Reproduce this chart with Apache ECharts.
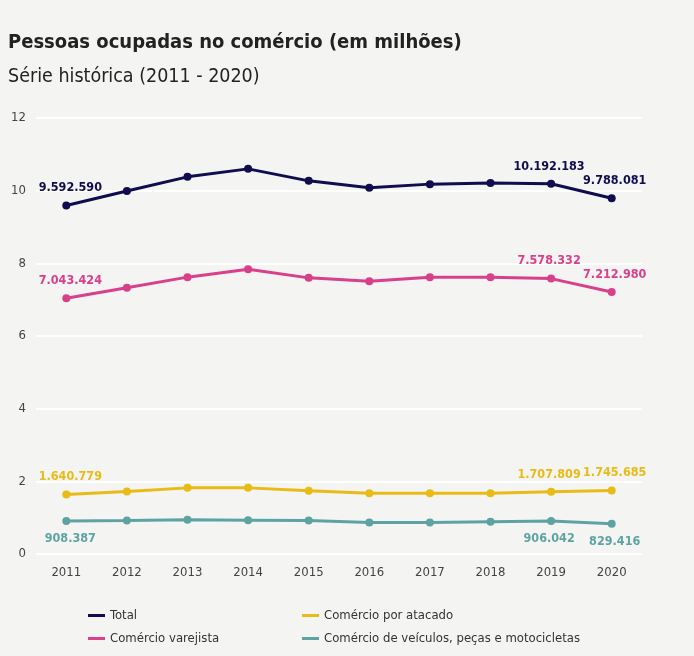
<!DOCTYPE html>
<html>
<head>
<meta charset="utf-8">
<script src="https://cdn.jsdelivr.net/npm/echarts@6/dist/echarts.min.js"></script>
<style>
html,body{margin:0;padding:0;background:#f4f4f2;}
#chart{width:694px;height:656px;}
</style>
</head>
<body>
<div id="chart"></div>
<script>
var anos = ['2011','2012','2013','2014','2015','2016','2017','2018','2019','2020'];
var total = [9.59, 9.99, 10.38, 10.60, 10.27, 10.08, 10.18, 10.21, 10.19, 9.79];
var varejista = [7.04, 7.33, 7.62, 7.84, 7.60, 7.51, 7.62, 7.62, 7.58, 7.21];
var atacado = [1.64, 1.72, 1.82, 1.82, 1.74, 1.67, 1.67, 1.67, 1.71, 1.75];
var veiculos = [0.91, 0.92, 0.94, 0.93, 0.92, 0.87, 0.87, 0.89, 0.91, 0.83];
// rotulos mostrados so em 2011, 2019 e 2020
var rotTotal = {0:'9.592.590', 8:'10.192.183', 9:'9.788.081'};
var rotVarejista = {0:'7.043.424', 8:'7.578.332', 9:'7.212.980'};
var rotAtacado = {0:'1.640.779', 8:'1.707.809', 9:'1.745.685'};
var rotVeiculos = {0:'908.387', 8:'906.042', 9:'829.416'};
var yTicks = [0, 2, 4, 6, 8, 10, 12];

var fonte = '"DejaVu Sans Condensed", "DejaVu Sans", sans-serif';
var estreito = 'condensed';
// pequeno deslocamento pra 2019 e 2020 nao se encostarem
var desloc = {0: [4, 0], 8: [-2, 0], 9: [3, 0]};

function montaDados(valores, rotulos, pos) {
    var out = [];
    for (var i = 0; i < valores.length; i++) {
        var item = {value: valores[i]};
        if (rotulos[i] != null) {
            item.label = {show: true, position: pos, formatter: rotulos[i], offset: desloc[i]};
        }
        out.push(item);
    }
    return out;
}

function serie(nome, cor, valores, rotulos, pos) {
    return {
        name: nome,
        type: 'line',
        data: montaDados(valores, rotulos, pos),
        symbol: 'circle',
        symbolSize: 8,
        lineStyle: {color: cor, width: 3},
        itemStyle: {color: cor},
        label: {show: false, color: cor, fontFamily: fonte, fontStyle: estreito, fontWeight: 'bold', fontSize: 12.5, distance: 7},
        animation: false
    };
}

function legenda(nome, left, top) {
    return {
        data: [nome], left: left, top: top,
        icon: 'rect', itemWidth: 17, itemHeight: 3, itemGap: 5,
        textStyle: {fontFamily: fonte, fontStyle: estreito, fontSize: 13, color: '#333'}
    };
}

var myChart = echarts.init(document.getElementById('chart'));
var option = {
    backgroundColor: '#f4f4f2',
    title: [
        {text: 'Pessoas ocupadas no comércio (em milhões)', left: 3, top: 28,
         textStyle: {fontFamily: fonte, fontStyle: estreito, fontSize: 20, fontWeight: 'bold', color: '#222'}},
        {text: 'Série histórica (2011 - 2020)', left: 3, top: 62,
         textStyle: {fontFamily: fonte, fontStyle: estreito, fontSize: 19.5, fontWeight: 'normal', color: '#222'}}
    ],
    legend: [
        legenda('Total', 83, 604),
        legenda('Comércio por atacado', 297, 604),
        legenda('Comércio varejista', 83, 627),
        legenda('Comércio de veículos, peças e motocicletas', 297, 627)
    ],
    grid: {left: 36, right: 52, top: 118, bottom: 102},
    xAxis: {
        type: 'category',
        data: anos,
        axisLine: {show: false},
        axisTick: {show: false},
        axisLabel: {fontFamily: fonte, fontStyle: estreito, fontSize: 13, color: '#444', margin: 12}
    },
    yAxis: {
        type: 'value',
        min: 0, max: 12, interval: 2,
        axisLabel: {fontFamily: fonte, fontStyle: estreito, fontSize: 13, color: '#444', margin: 10,
            formatter: function (v) { return yTicks.indexOf(v) >= 0 ? String(v) : ''; }},
        splitLine: {lineStyle: {color: '#ffffff', width: 2}}
    },
    series: [
        serie('Total', '#100c4e', total, rotTotal, 'top'),
        serie('Comércio varejista', '#d9408b', varejista, rotVarejista, 'top'),
        serie('Comércio por atacado', '#e8bb16', atacado, rotAtacado, 'top'),
        serie('Comércio de veículos, peças e motocicletas', '#5ea3a3', veiculos, rotVeiculos, 'bottom')
    ]
};
myChart.setOption(option);
</script>
</body>
</html>
